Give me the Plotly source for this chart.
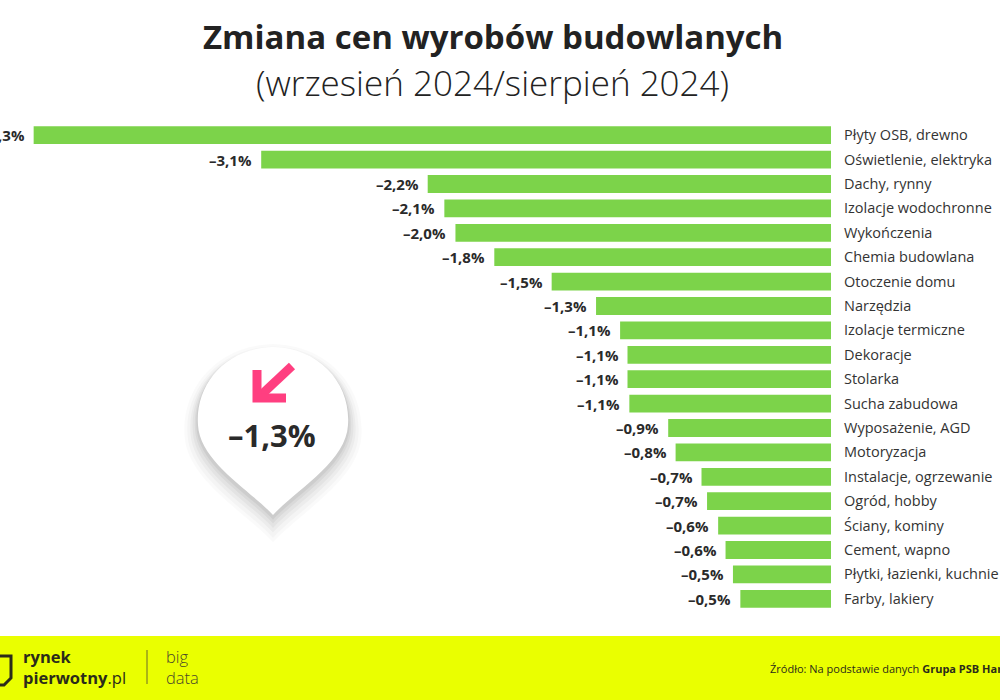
import plotly.graph_objects as go

categories = ["Płyty OSB, drewno", "Oświetlenie, elektryka", "Dachy, rynny", "Izolacje wodochronne",
              "Wykończenia", "Chemia budowlana", "Otoczenie domu", "Narzędzia", "Izolacje termiczne",
              "Dekoracje", "Stolarka", "Sucha zabudowa", "Wyposażenie, AGD", "Motoryzacja",
              "Instalacje, ogrzewanie", "Ogród, hobby", "Ściany, kominy", "Cement, wapno",
              "Płytki, łazienki, kuchnie", "Farby, lakiery"]
values = [-4.31, -3.08, -2.18, -2.09, -2.03, -1.82, -1.51, -1.27, -1.14, -1.10, -1.10, -1.09,
          -0.88, -0.84, -0.70, -0.67, -0.61, -0.57, -0.53, -0.49]
labels = ["–4,3%", "–3,1%", "–2,2%", "–2,1%", "–2,0%", "–1,8%", "–1,5%", "–1,3%", "–1,1%", "–1,1%",
          "–1,1%", "–1,1%", "–0,9%", "–0,8%", "–0,7%", "–0,7%", "–0,6%", "–0,6%", "–0,5%", "–0,5%"]
average_label = "–1,3%"

W, H = 1000, 700
L, R, T, B = 0, 169, 123, 89
PW, PH = W - L - R, H - T - B

def PX(x):
    return (x - L) / PW

def PY(y):
    return (H - B - y) / PH

def path(points_cmds):
    out = []
    for cmd, pts in points_cmds:
        s = cmd + " " + " ".join(f"{PX(x):.5f},{PY(y):.5f}" for x, y in pts)
        out.append(s)
    return " ".join(out) + " Z"

FONT = "Open Sans"
GREEN = "#7CD34A"

fig = go.Figure()
fig.add_trace(go.Bar(
    x=values, y=categories, orientation="h",
    marker=dict(color=GREEN, line=dict(width=0)),
    hoverinfo="skip", showlegend=False,
))

annotations = []
for c, v, t in zip(categories, values, labels):
    annotations.append(dict(x=v, y=c, xref="x", yref="y", text=f"<b>{t}</b>", showarrow=False,
                            xanchor="right", yanchor="middle", xshift=-7,
                            font=dict(family=FONT, size=15, color="#2a2a2a")))

# Title and subtitle
annotations.append(dict(x=PX(493), y=PY(37), xref="paper", yref="paper",
                        text="<b>Zmiana cen wyrobów budowlanych</b>", showarrow=False,
                        xanchor="center", yanchor="middle",
                        font=dict(family=FONT, size=33, color="#222222")))
annotations.append(dict(x=PX(493), y=PY(83), xref="paper", yref="paper",
                        text="(wrzesień 2024/sierpień 2024)", showarrow=False,
                        xanchor="center", yanchor="middle",
                        font=dict(family=FONT, size=35, color="#222222", weight=300)))

# Callout value
annotations.append(dict(x=PX(272), y=PY(435), xref="paper", yref="paper",
                        text=f"<b>{average_label}</b>", showarrow=False,
                        xanchor="center", yanchor="middle",
                        font=dict(family=FONT, size=31, color="#2a2a2a")))

# Footer texts
annotations.append(dict(x=PX(21), y=PY(667), xref="paper", yref="paper",
                        text="<b>rynek</b><br><b>pierwotny</b>.pl", showarrow=False,
                        xanchor="left", yanchor="middle", align="left",
                        font=dict(family=FONT, size=16.5, color="#2b2b1a")))
annotations.append(dict(x=PX(164), y=PY(667), xref="paper", yref="paper",
                        text="big<br>data", showarrow=False,
                        xanchor="left", yanchor="middle", align="left",
                        font=dict(family=FONT, size=16.5, color="#4a4a2a", weight=300)))
annotations.append(dict(x=PX(768), y=PY(668), xref="paper", yref="paper",
                        text="Źródło: Na podstawie danych <b>Grupa PSB Handel</b>", showarrow=False,
                        xanchor="left", yanchor="middle", align="left",
                        font=dict(family=FONT, size=11, color="#2b2b1a")))

shapes = []
# Footer band
shapes.append(dict(type="rect", xref="paper", yref="paper", x0=PX(0), x1=PX(1000),
                   y0=PY(636), y1=PY(700), fillcolor="#EAFF00", line=dict(width=0), layer="below"))
shapes.append(dict(type="line", xref="paper", yref="paper", x0=PX(147), x1=PX(147),
                   y0=PY(650), y1=PY(684), line=dict(color="#6b6b2a", width=1)))
shapes.append(dict(type="path", xref="paper", yref="paper",
                   path=f"M {PX(-2)},{PY(656)} L {PX(11)},{PY(656)} L {PX(11)},{PY(678)} L {PX(4)},{PY(685)} L {PX(-2)},{PY(685)}",
                   line=dict(color="#2b2b1a", width=3)))

# Callout shape with soft shadow
def drop(s=1.0, dy=0.0, cx=273, cy=430):
    def t(p):
        return (cx + (p[0] - cx) * s, cy + (p[1] - cy) * s + dy)
    pts = [
        ("M", [(273, 515)]),
        ("C", [(250, 490), (200, 462), (198, 425)]),
        ("C", [(195, 385), (225, 348), (273, 347)]),
        ("C", [(321, 348), (351, 385), (348, 425)]),
        ("C", [(346, 462), (296, 490), (273, 515)]),
    ]
    return path([(c, [t(p) for p in ps]) for c, ps in pts])

for s, dy, op in [(1.18, 12, 0.018), (1.14, 11, 0.022), (1.10, 9, 0.03), (1.07, 7, 0.035),
                  (1.04, 5, 0.045), (1.02, 3, 0.05)]:
    shapes.append(dict(type="path", xref="paper", yref="paper", path=drop(s, dy),
                       fillcolor=f"rgba(0,0,0,{op})", line=dict(width=0), layer="above"))
shapes.append(dict(type="path", xref="paper", yref="paper", path=drop(),
                   fillcolor="white", line=dict(width=0), layer="above"))

# Pink arrow
PINK = "#FF3F80"
shapes.append(dict(type="line", xref="paper", yref="paper", x0=PX(292), y0=PY(366), x1=PX(260), y1=PY(396),
                   line=dict(color=PINK, width=9), layer="above"))
shapes.append(dict(type="path", xref="paper", yref="paper",
                   path=f"M {PX(257)},{PY(370)} L {PX(257)},{PY(398)} L {PX(286)},{PY(398)}",
                   line=dict(color=PINK, width=9), layer="above"))

fig.update_layout(
    width=W, height=H,
    margin=dict(l=L, r=R, t=T, b=B, pad=0),
    paper_bgcolor="white", plot_bgcolor="white",
    bargap=0.27,
    xaxis=dict(range=[-(831 / 185), 0], visible=False, fixedrange=True),
    yaxis=dict(autorange="reversed", side="right", showgrid=False, zeroline=False,
               showline=False, ticks="", ticklabelstandoff=12,
               tickfont=dict(family=FONT, size=14.5, color="#333333")),
    annotations=annotations,
    shapes=shapes,
    showlegend=False,
)

fig.write_html("out.html")
